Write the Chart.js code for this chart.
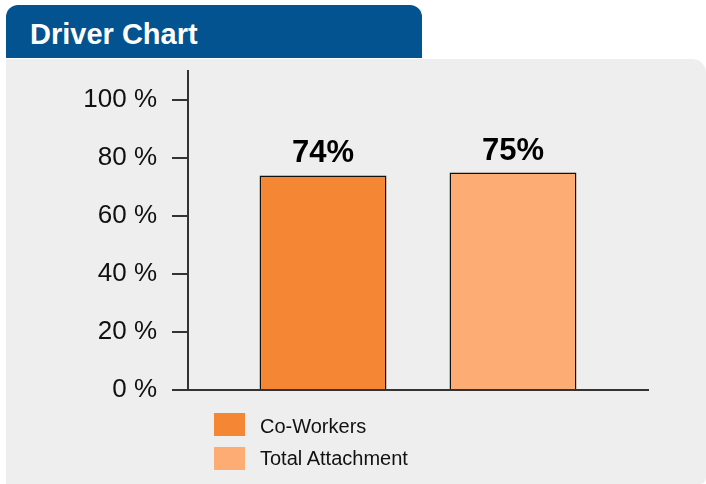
<!DOCTYPE html>
<html><head><meta charset="utf-8">
<script src="https://cdn.jsdelivr.net/npm/chart.js@4/dist/chart.umd.min.js"></script>
<style>
html,body{margin:0;padding:0;background:#fff;width:706px;height:484px;overflow:hidden;font-family:"Liberation Sans",Arial,sans-serif;}
#hdr{position:absolute;left:6px;top:5px;width:416px;height:53px;background:#02538F;border-radius:12px 12px 0 0;}
#hdr span{position:absolute;left:24px;top:13px;color:#fff;font-weight:bold;font-size:29px;line-height:33px;}
#panel{position:absolute;left:6px;top:59px;width:700px;height:425px;background:#EEEEEE;border-radius:0 14px 6px 0;}
#wrap{position:absolute;left:0;top:0;width:706px;height:484px;}
#legend{position:absolute;left:214px;top:413px;font-size:20px;line-height:23px;color:#111;}
.li{height:34px;position:relative;}
.sw{position:absolute;left:0;top:0;width:31px;height:23px;}
.lt{position:absolute;left:46px;top:2px;white-space:nowrap;}
.li + .li .lt{top:0px;}
</style></head><body>
<div id="panel"></div>
<div id="hdr"><span>Driver Chart</span></div>
<div id="wrap"><canvas id="c" width="706" height="484"></canvas></div>
<div id="legend"></div>
<script>
const categories = ["Driver"];
const seriesNames = ["Co-Workers", "Total Attachment"];
const coWorkers = [74];
const totalAttachment = [75];
const yTicks = [0, 20, 40, 60, 80, 100];
const colors = ["#F58634", "#FDAD73"];

const valueLabels = {
  id: 'valueLabels',
  afterDatasetsDraw(chart) {
    const ctx = chart.ctx;
    ctx.save();
    ctx.font = 'bold 31px "Liberation Sans", Arial, sans-serif';
    ctx.fillStyle = '#000';
    ctx.textAlign = 'center';
    ctx.textBaseline = 'alphabetic';
    chart.data.datasets.forEach((ds, i) => {
      chart.getDatasetMeta(i).data.forEach((bar, j) => {
        ctx.fillText(ds.data[j] + '%', bar.x, bar.y - 13);
      });
    });
    ctx.restore();
  }
};

const chart = new Chart(document.getElementById('c'), {
  type: 'bar',
  data: {
    labels: categories,
    datasets: [
      {label: seriesNames[0], data: coWorkers, backgroundColor: colors[0], borderColor: '#111', borderWidth: 1.5},
      {label: seriesNames[1], data: totalAttachment, backgroundColor: colors[1], borderColor: '#111', borderWidth: 1.5}
    ]
  },
  options: {
    responsive: false,
    animation: false,
    devicePixelRatio: 1,
    layout: {padding: {top: 71, bottom: 94, left: 0, right: 58}},
    datasets: {bar: {categoryPercentage: 0.826, barPercentage: 0.668}},
    plugins: {legend: {display: false}, tooltip: {enabled: false}},
    scales: {
      x: {
        ticks: {display: false},
        grid: {display: false, drawTicks: false},
        border: {display: true, color: '#333', width: 2},
        afterFit(s) { s.height = 0; }
      },
      y: {
        min: 0, max: 110,
        afterBuildTicks(s) { s.ticks = yTicks.map(v => ({value: v})); },
        ticks: {
          callback: v => v + ' %',
          color: '#111',
          font: {size: 26, family: '"Liberation Sans", Arial, sans-serif'},
          padding: 15
        },
        grid: {drawOnChartArea: false, drawTicks: true, tickLength: 16, color: '#333', lineWidth: 2},
        border: {display: true, color: '#333', width: 2},
        afterFit(s) { s.width = 188; }
      }
    }
  },
  plugins: [valueLabels]
});

const lg = document.getElementById('legend');
seriesNames.forEach((n, i) => {
  const d = document.createElement('div'); d.className = 'li';
  d.innerHTML = '<div class="sw" style="background:' + colors[i] + '"></div><div class="lt">' + n + '</div>';
  lg.appendChild(d);
});
</script>
</body></html>
